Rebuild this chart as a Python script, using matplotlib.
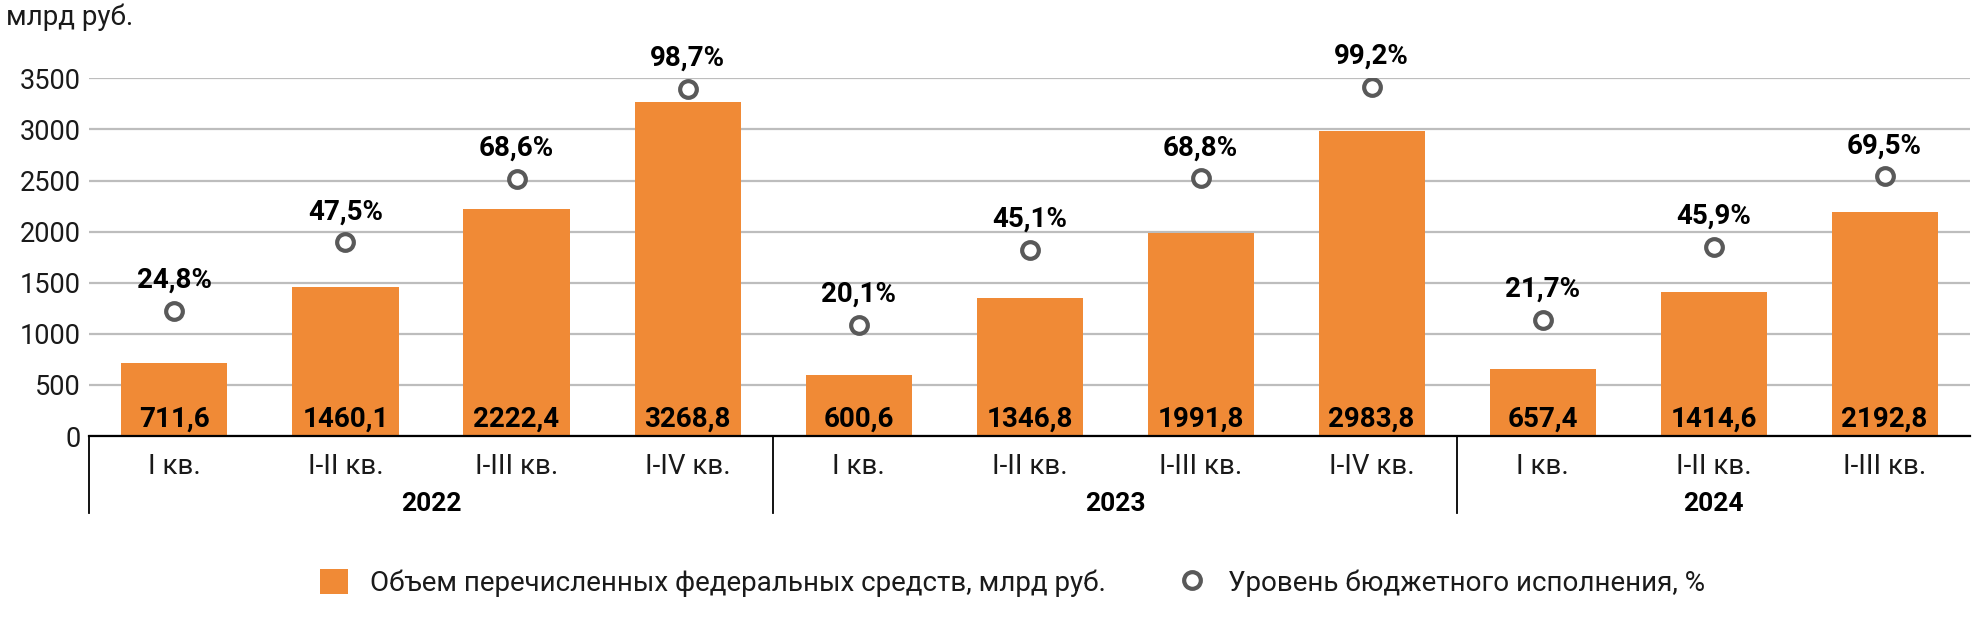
import matplotlib
matplotlib.use('Agg')
import matplotlib.pyplot as plt
import matplotlib.transforms as mtransforms
from matplotlib.lines import Line2D
from matplotlib.patches import Patch

plt.rcParams['font.family'] = ['Roboto', 'DejaVu Sans']

quarters = ['I кв.', 'I-II кв.', 'I-III кв.', 'I-IV кв.',
            'I кв.', 'I-II кв.', 'I-III кв.', 'I-IV кв.',
            'I кв.', 'I-II кв.', 'I-III кв.']
years = ['2022', '2023', '2024']
year_sizes = [4, 4, 3]
volume = [711.6, 1460.1, 2222.4, 3268.8, 600.6, 1346.8, 1991.8, 2983.8, 657.4, 1414.6, 2192.8]
execution = [24.8, 47.5, 68.6, 98.7, 20.1, 45.1, 68.8, 99.2, 21.7, 45.9, 69.5]

orange = '#F08A36'
grey = '#595959'
txt = '#1a1a1a'

fig = plt.figure(figsize=(19.86, 6.32), dpi=100)
ax = fig.add_axes([0.0448, 0.31, 0.9472, 0.566])
x = list(range(len(volume)))

ax.bar(x, volume, width=0.62, color=orange, zorder=2)
ax.set_xlim(-0.5, 10.5)
ax.set_ylim(0, 3500)
ax.set_yticks(range(0, 3501, 500))
ax.grid(axis='y', color='#BDBDBD', linewidth=1.6, zorder=0)
ax.set_axisbelow(True)
for s in ['left', 'right', 'top']:
    ax.spines[s].set_visible(False)
ax.spines['bottom'].set_linewidth(1.6)
ax.tick_params(axis='y', length=0, labelsize=19.5, pad=6, colors=txt)
ax.tick_params(axis='x', length=0)
ax.set_xticks([])

for xi, v in zip(x, volume):
    ax.text(xi, 165, f'{v:.1f}'.replace('.', ','), ha='center', va='center',
            fontsize=20, fontweight='bold', color='black', zorder=4)

ax2 = ax.twinx()
ax2.set_ylim(-17.0, 102.1)
ax2.axis('off')
ax2.plot(x, execution, linestyle='none', marker='o', markersize=12,
         markerfacecolor='white', markeredgecolor=grey, markeredgewidth=3, zorder=5)
for xi, p in zip(x, execution):
    ax2.annotate(f'{p:.1f}%'.replace('.', ','), (xi, p), xytext=(0, 22),
                 textcoords='offset points', ha='center', va='center',
                 fontsize=20, fontweight='bold', color='black', annotation_clip=False)

trans = mtransforms.blended_transform_factory(ax.transData, ax.transAxes)
for xi, q in zip(x, quarters):
    ax.text(xi, -0.084, q, transform=trans, ha='center', va='center', fontsize=20,
            color=txt)

start = -0.5
for yr, n in zip(years, year_sizes):
    ax.plot([start, start], [0, -0.215], transform=trans, color='black', linewidth=1.3, clip_on=False)
    ax.text(start + n / 2, -0.19, yr, transform=trans, ha='center', va='center',
            fontsize=19, fontweight='bold')
    start += n

fig.text(0.003, 0.972, 'млрд руб.', fontsize=20, va='center', ha='left', color=txt)

handles = [Patch(facecolor=orange, edgecolor='none'),
           Line2D([], [], linestyle='none', marker='o', markersize=12,
                  markerfacecolor='white', markeredgecolor=grey, markeredgewidth=3)]
labels = ['Объем перечисленных федеральных средств, млрд руб.',
          'Уровень бюджетного исполнения, %']
fig.legend(handles, labels, loc='center', bbox_to_anchor=(0.51, 0.078), ncol=2,
           frameon=False, prop={'size': 20}, labelcolor=txt, handlelength=1.0,
           handleheight=1.0, columnspacing=2.6, handletextpad=0.8)

fig.savefig('out.png', dpi=100)
